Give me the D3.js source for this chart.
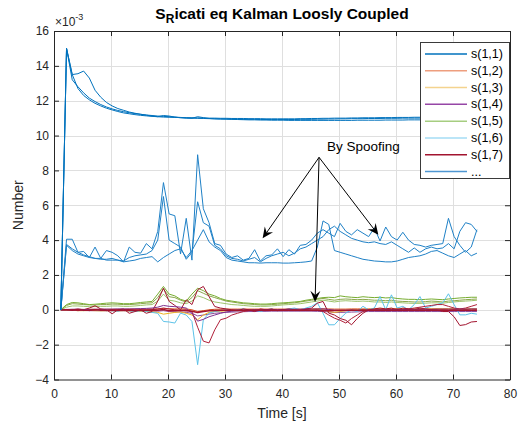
<!DOCTYPE html>
<html><head><meta charset="utf-8">
<script src="https://cdn.jsdelivr.net/npm/d3@7"></script>
<style>
body{margin:0;background:#fff}
text{font-family:"Liberation Sans",Arial,Helvetica,sans-serif}
</style>
</head><body>
<svg id="chart" width="531" height="423"></svg>
<script>
// ---------- data (values in units of 1e-3) ----------
const time = [1.2,2.2,3.2,4.2,5.2,6.2,7.2,8.2,9.2,10.2,
  11.2,12.2,13.2,14.2,15.2,16.2,17.2,18.2,19.2,20.2,
  21.2,22.2,23.2,24.2,25.2,26.2,27.2,28.2,29.2,30.2,
  31.2,32.2,33.2,34.2,35.2,36.2,37.2,38.2,39.2,40.2,
  41.2,42.2,43.2,44.2,45.2,46.2,47.2,48.2,49.2,50.2,
  51.2,52.2,53.2,54.2,55.2,56.2,57.2,58.2,59.2,60.2,
  61.2,62.2,63.2,64.2,65.2,66.2,67.2,68.2,69.2,70.2,
  71.2,72.2,73.2,74.2];

const upper1 = [0,15.0,13.5,12.7,12.3,12.05,11.85,11.7,11.57,11.47,
  11.38,11.3,11.25,11.2,11.16,11.13,11.1,11.08,11.06,11.05,
  11.04,11.03,11.02,11.02,11.01,11.0,11.0,11.0,10.99,10.99,
  10.98,10.98,10.98,10.97,10.97,10.97,10.96,10.96,10.96,10.96,
  10.96,10.96,10.97,10.97,10.98,10.98,10.99,10.99,11.0,11.0,
  11.0,11.01,11.01,11.02,11.02,11.02,11.03,11.03,11.03,11.04,
  11.04,11.04,11.05,11.05,11.05,11.05,11.06,11.06,11.06,11.06,
  11.07,11.07,11.07,11.07];
const upper2 = [0,15.0,13.5,13.55,13.7,13.3,12.6,12.2,11.9,11.7,
  11.55,11.45,11.35,11.28,11.22,11.17,11.12,11.08,11.15,11.12,
  11.06,11.02,11.0,10.99,11.08,11.03,10.98,10.96,10.95,10.95,
  10.94,10.94,10.93,10.93,10.93,10.92,10.92,10.92,10.92,10.92,
  10.92,10.92,10.93,10.93,10.93,10.94,10.94,10.95,10.95,10.96,
  10.96,10.97,10.97,10.97,10.98,10.98,10.98,10.99,10.99,10.99,
  11.0,11.0,11.0,11.0,11.01,11.01,11.01,11.02,11.02,11.02,
  11.02,11.03,11.03,11.03];
const upper3 = [0,15.0,13.2,12.8,12.45,12.15,11.95,11.78,11.64,11.53,
  11.44,11.37,11.31,11.26,11.22,11.18,11.15,11.12,11.1,11.08,
  11.06,11.04,11.02,11.0,10.99,10.98,10.97,10.96,10.95,10.94,
  10.93,10.92,10.91,10.9,10.9,10.89,10.89,10.88,10.88,10.88,
  10.87,10.87,10.87,10.87,10.87,10.87,10.87,10.87,10.87,10.87,
  10.87,10.87,10.88,10.88,10.88,10.88,10.88,10.89,10.89,10.89,
  10.89,10.9,10.9,10.9,10.9,10.9,10.91,10.91,10.91,10.91,
  10.91,10.92,10.92,10.92];

const mid1 = [0,4.05,4.05,3.3,3.35,3.0,3.6,2.95,3.4,3.3,
  3.1,2.75,3.6,3.3,3.25,3.8,3.5,4.5,7.3,5.5,
  5.4,3.2,5.25,2.85,8.9,5.8,5.0,3.8,3.7,3.2,
  3.0,3.1,2.85,2.95,3.45,2.8,3.1,3.15,3.5,3.05,
  3.45,3.2,3.7,3.75,4.0,4.4,4.6,4.4,4.2,4.96,
  4.5,4.3,4.6,4.4,4.2,4.7,3.95,4.75,4.2,4.0,
  4.45,4.0,3.75,3.7,3.6,3.7,3.75,3.8,5.25,4.2,
  3.7,3.3,3.6,4.6];
const mid2 = [0,3.75,3.5,3.3,3.15,3.05,2.95,2.9,2.9,2.95,
  2.85,2.8,3.0,3.1,3.15,3.2,3.4,4.0,6.5,4.0,
  3.8,3.6,2.9,3.3,6.2,5.0,4.8,3.7,3.5,3.1,
  2.95,2.9,2.8,2.9,3.0,2.75,2.95,3.1,3.2,3.3,
  3.1,3.25,3.5,3.6,3.8,4.0,4.2,4.6,4.8,4.5,
  4.3,4.1,4.0,3.9,3.85,3.9,3.8,3.75,3.9,3.7,
  3.5,3.3,3.55,3.3,3.5,3.6,3.5,3.55,3.8,3.5,
  4.5,5.0,4.9,4.5];
const mid3 = [0,3.7,3.4,3.2,3.1,3.0,2.95,2.95,2.85,2.85,
  2.85,2.75,2.8,2.85,2.95,3.0,3.05,2.75,3.0,3.2,
  3.4,3.5,3.0,3.4,4.0,4.6,3.9,3.6,3.4,3.0,
  2.85,2.8,2.75,2.7,2.7,2.68,2.7,2.7,2.7,2.68,
  2.68,2.7,2.72,2.75,2.8,3.6,5.1,4.9,3.4,3.3,
  3.2,3.1,3.0,2.9,2.85,2.8,2.78,2.75,2.75,2.8,
  2.9,3.0,3.05,3.1,3.2,3.35,3.4,3.25,3.1,3.0,
  3.2,3.4,3.1,3.25];

const green1 = [0,0.3,0.42,0.4,0.35,0.3,0.32,0.35,0.38,0.4,
  0.38,0.35,0.35,0.38,0.42,0.45,0.48,0.9,1.34,0.9,
  0.8,0.6,0.5,0.9,1.24,1.1,0.9,0.8,0.65,0.55,
  0.5,0.45,0.4,0.38,0.35,0.33,0.33,0.35,0.38,0.4,
  0.42,0.45,0.48,0.55,0.6,0.65,0.7,0.72,0.7,0.8,
  0.75,0.72,0.7,0.75,0.72,0.7,0.72,0.68,0.7,0.65,
  0.62,0.6,0.6,0.58,0.6,0.62,0.6,0.58,0.62,0.65,
  0.68,0.7,0.72,0.72];
const green2 = [0,0.25,0.35,0.33,0.3,0.28,0.27,0.3,0.3,0.33,
  0.32,0.3,0.3,0.32,0.35,0.38,0.4,0.7,1.2,0.75,
  0.7,0.55,0.45,0.7,1.1,0.95,0.8,0.7,0.6,0.5,
  0.45,0.4,0.35,0.33,0.3,0.28,0.28,0.3,0.32,0.35,
  0.38,0.4,0.45,0.5,0.55,0.6,0.65,0.6,0.55,0.6,
  0.62,0.6,0.58,0.6,0.58,0.55,0.55,0.52,0.55,0.5,
  0.48,0.47,0.45,0.45,0.47,0.5,0.48,0.45,0.5,0.52,
  0.55,0.58,0.6,0.62];
const green3 = [0,0.15,0.22,0.22,0.2,0.18,0.18,0.2,0.2,0.22,
  0.22,0.2,0.2,0.22,0.25,0.28,0.3,0.5,0.9,0.55,
  0.5,0.4,0.35,0.5,0.8,0.7,0.55,0.45,0.4,0.35,
  0.3,0.28,0.25,0.22,0.2,0.2,0.2,0.22,0.25,0.28,
  0.3,0.32,0.35,0.4,0.45,0.5,0.55,0.5,0.45,0.5,
  0.52,0.5,0.48,0.5,0.48,0.45,0.45,0.42,0.45,0.42,
  0.4,0.38,0.37,0.37,0.38,0.4,0.4,0.38,0.42,0.45,
  0.48,0.5,0.52,0.55];
const red1 = [0,0.02,0.0,0.05,0.0,0.1,0.23,0.05,0.0,-0.23,
  0.0,0.05,-0.2,-0.1,0.0,-0.2,-0.1,0.5,1.24,0.48,
  0.25,0.0,0.57,0.3,1.15,1.34,0.76,0.19,0.1,0.05,
  0.0,-0.05,0.05,0.0,-0.1,0.05,0.0,0.05,-0.05,0.0,
  0.05,0.0,-0.05,0.05,0.1,0.38,0.48,-0.19,-0.3,-0.5,
  -0.6,-0.86,-0.5,-0.2,0.0,0.05,0.1,0.05,0.1,0.0,
  0.1,0.05,0.0,0.1,0.05,0.0,0.0,-0.1,-0.1,-0.4,
  -0.9,-0.85,-0.7,-0.67];
const red2 = [0,-0.02,0.0,-0.05,0.0,-0.05,0.0,0.02,-0.05,0.0,
  -0.05,0.0,0.02,-0.05,0.0,-0.03,0.0,0.05,0.1,0.05,
  0.0,-0.05,0.0,-0.1,-1.0,-1.8,-1.9,-1.15,-0.57,-0.48,
  -0.3,-0.2,-0.1,-0.05,0.0,-0.05,0.0,0.0,-0.05,0.0,
  0.0,-0.05,0.0,0.0,-0.05,0.0,-0.1,-0.3,-0.48,-0.6,
  -0.76,-0.5,-0.3,-0.1,0.0,-0.05,0.0,-0.05,0.0,0.05,
  0.0,0.05,0.1,0.15,0.2,0.25,0.3,0.3,0.2,0.1,
  0.05,0.1,0.2,0.3];
const red3 = [0,0.0,-0.02,0.0,-0.03,-0.02,0.0,-0.02,-0.03,-0.02,
  -0.02,-0.03,-0.02,-0.02,-0.03,-0.02,-0.02,-0.03,0.02,-0.05,
  -0.05,-0.03,-0.05,-0.08,-0.15,-0.1,-0.05,-0.04,-0.03,-0.03,
  -0.03,-0.02,-0.03,-0.02,-0.03,-0.02,-0.03,-0.02,-0.03,-0.02,
  -0.03,-0.02,-0.03,-0.02,-0.03,-0.03,-0.04,-0.05,-0.04,-0.03,
  -0.03,-0.02,-0.03,-0.02,-0.03,-0.02,-0.03,-0.02,-0.03,-0.02,
  -0.03,-0.02,-0.03,-0.02,-0.03,-0.02,-0.03,-0.02,-0.03,-0.02,
  -0.03,-0.02,-0.03,-0.02];
const cyan1 = [0,0.0,-0.02,0.0,-0.05,0.0,0.02,-0.05,0.0,-0.05,
  -0.08,0.0,-0.05,-0.1,-0.05,-0.1,-0.15,-0.2,-0.67,-0.7,
  -0.76,-0.19,-0.3,-0.67,-3.15,-0.57,-0.19,-0.1,-0.05,0.0,
  -0.05,0.0,0.05,-0.05,0.0,-0.1,0.0,0.05,-0.05,0.0,
  0.05,0.1,0.0,0.1,0.2,0.4,-0.2,-0.86,-0.86,-0.5,
  -0.19,0.0,-0.1,0.2,0.0,0.1,0.76,0.0,0.86,0.1,
  0.2,0.0,0.3,0.76,0.1,0.2,0.3,0.4,0.92,0.3,
  -0.29,-0.29,-0.2,-0.25];
const yellow1 = [0,-0.02,-0.03,-0.05,-0.05,-0.04,-0.05,-0.06,-0.05,-0.05,
  -0.06,-0.05,-0.06,-0.07,-0.08,-0.1,-0.12,-0.15,-0.25,-0.2,
  -0.15,-0.12,-0.2,-0.3,-0.57,-0.3,-0.15,-0.1,-0.08,-0.06,
  -0.05,-0.05,-0.04,-0.04,-0.03,-0.03,-0.03,-0.02,-0.02,-0.02,
  -0.02,-0.02,-0.01,0.0,0.02,0.05,0.0,-0.1,-0.15,-0.1,
  -0.05,-0.03,0.0,0.02,0.03,0.05,0.05,0.06,0.05,0.05,
  0.06,0.05,0.05,0.06,0.05,0.05,0.06,0.05,0.05,0.06,
  0.05,0.05,0.06,0.05];
const purple1 = [0,0.02,0.03,0.03,0.02,0.02,0.03,0.03,0.04,0.04,
  0.05,0.05,0.05,0.06,0.07,0.08,0.1,0.15,0.25,0.2,
  0.18,0.15,0.1,-0.2,-0.65,-0.55,-0.4,-0.3,-0.2,-0.12,
  -0.08,-0.05,-0.03,-0.02,0.0,0.0,0.0,0.01,0.01,0.02,
  0.02,0.03,0.03,0.04,0.04,0.05,0.05,0.02,-0.02,-0.05,
  -0.05,-0.04,-0.03,-0.02,-0.01,0.0,0.0,0.01,0.01,0.02,
  0.02,0.02,0.03,0.03,0.03,0.03,0.04,0.04,0.04,0.04,
  0.04,0.04,0.05,0.05];
const purple2 = [0,-0.02,-0.03,-0.04,-0.04,-0.05,-0.05,-0.05,-0.06,-0.06,
  -0.06,-0.06,-0.07,-0.07,-0.07,-0.08,-0.08,-0.08,-0.05,-0.1,
  -0.12,-0.12,-0.15,-0.2,-0.35,-0.3,-0.25,-0.2,-0.17,-0.15,
  -0.13,-0.12,-0.11,-0.1,-0.1,-0.09,-0.09,-0.08,-0.08,-0.08,
  -0.08,-0.08,-0.08,-0.08,-0.08,-0.09,-0.1,-0.12,-0.15,-0.15,
  -0.14,-0.13,-0.12,-0.11,-0.1,-0.1,-0.1,-0.1,-0.1,-0.1,
  -0.1,-0.1,-0.1,-0.1,-0.1,-0.1,-0.1,-0.1,-0.1,-0.1,
  -0.1,-0.1,-0.1,-0.1];
const orange1 = [0,0.01,0.02,0.02,0.02,0.03,0.03,0.03,0.03,0.03,
  0.03,0.03,0.04,0.04,0.04,0.04,0.05,0.05,0.08,0.06,
  0.05,0.05,0.05,0.0,-0.1,-0.05,0.0,0.03,0.04,0.04,
  0.04,0.04,0.04,0.04,0.04,0.04,0.04,0.04,0.04,0.04,
  0.04,0.04,0.04,0.05,0.05,0.06,0.06,0.05,0.04,0.04,
  0.04,0.05,0.05,0.05,0.05,0.05,0.05,0.05,0.05,0.05,
  0.05,0.05,0.05,0.05,0.05,0.05,0.05,0.05,0.05,0.05,
  0.05,0.05,0.05,0.05];

const xTicks = [0,10,20,30,40,50,60,70,80];
const yTicks = [-4,-2,0,2,4,6,8,10,12,14,16];
const legendNames = ["s(1,1)","s(1,2)","s(1,3)","s(1,4)","s(1,5)","s(1,6)","s(1,7)","..."];
const legendColors = ["#0072BD","#EE9E7E","#F4D38E","#9646A6","#A6CD80","#A4DCF4","#A2142F","#4E96D2"];

// annotation (data coordinates)
const annoText = "By Spoofing";
const annoTextPos = [47.9, 9.1];
const annoFrom = [46.5, 8.75];
const annoTips = [[36.6, 4.1], [56.9, 4.3], [45.8, 0.45]];

// series with style
const series = [
  {v: purple2, c: "#8c4a9a"}, {v: orange1, c: "#D95319"}, {v: yellow1, c: "#EDB120"},
  {v: green3, c: "#9cc26b"}, {v: green2, c: "#8aa64a"}, {v: green1, c: "#77AC30"},
  {v: cyan1, c: "#5cc2e8"}, {v: red2, c: "#b0203a"}, {v: red1, c: "#A2142F"},
  {v: purple1, c: "#7E2F8E"}, {v: red3, c: "#A2142F", w: 1.6},
  {v: mid3, c: "#1f80c6"}, {v: mid2, c: "#1f80c6"}, {v: mid1, c: "#1f80c6"},
  {v: upper3, c: "#0072BD"}, {v: upper2, c: "#0072BD"}, {v: upper1, c: "#0072BD"}
];

// ---------- drawing ----------
const svg = d3.select("#chart");
const L = 54, R = 510, T = 31, B = 379.5;
const x = d3.scaleLinear().domain([0, 80]).range([L, R]);
const y = d3.scaleLinear().domain([-4, 16]).range([B, T]);
const axisColor = "#262626";

// grid
const grid = svg.append("g");
grid.selectAll(".gx").data(xTicks.slice(1, -1)).enter().append("line")
  .attr("x1", d => Math.round(x(d)) + 0.5).attr("x2", d => Math.round(x(d)) + 0.5)
  .attr("y1", T).attr("y2", B).attr("stroke", "#dfdfdf").attr("stroke-width", 1);
grid.selectAll(".gy").data(yTicks.slice(1, -1)).enter().append("line")
  .attr("y1", d => Math.round(y(d)) + 0.5).attr("y2", d => Math.round(y(d)) + 0.5)
  .attr("x1", L).attr("x2", R).attr("stroke", "#dfdfdf").attr("stroke-width", 1);

// lines
svg.append("clipPath").attr("id", "clip").append("rect")
  .attr("x", L).attr("y", T).attr("width", R - L).attr("height", B - T);
const line = d3.line().x((d, i) => x(time[i])).y(d => y(d));
const lg = svg.append("g").attr("clip-path", "url(#clip)");
series.forEach(s => {
  lg.append("path").datum(s.v).attr("d", line)
    .attr("fill", "none").attr("stroke", s.c).attr("stroke-width", s.w || 1)
    .attr("stroke-linejoin", "round");
});

// axes (box with inward ticks)
function styleAxis(g) {
  g.select(".domain").attr("stroke", axisColor);
  g.selectAll(".tick line").attr("stroke", axisColor);
  g.selectAll(".tick text").attr("fill", axisColor).attr("font-size", 12)
    .attr("font-family", '"Liberation Sans",Arial,sans-serif');
}
const xb = svg.append("g").attr("transform", `translate(0,${B})`)
  .call(d3.axisBottom(x).tickValues(xTicks).tickSizeInner(-5).tickSizeOuter(0).tickPadding(10));
styleAxis(xb);
const xt = svg.append("g").attr("transform", `translate(0,${T})`)
  .call(d3.axisTop(x).tickValues(xTicks).tickSizeInner(-5).tickSizeOuter(0).tickFormat(""));
styleAxis(xt);
const yl = svg.append("g").attr("transform", `translate(${L},0)`)
  .call(d3.axisLeft(y).tickValues(yTicks).tickSizeInner(-5).tickSizeOuter(0).tickPadding(5));
styleAxis(yl);
const yr = svg.append("g").attr("transform", `translate(${R},0)`)
  .call(d3.axisRight(y).tickValues(yTicks).tickSizeInner(-5).tickSizeOuter(0).tickFormat(""));
styleAxis(yr);

// exponent label
const ex = svg.append("text").attr("x", L + 1).attr("y", 26).attr("fill", axisColor).attr("font-size", 12);
ex.append("tspan").text("\u00d710");
ex.append("tspan").attr("dy", -6).attr("font-size", 9).text("-3");

// axis labels
svg.append("text").attr("x", (L + R) / 2).attr("y", 418).attr("text-anchor", "middle")
  .attr("fill", axisColor).attr("font-size", 14).text("Time [s]");
svg.append("text").attr("transform", `translate(23,${(T + B) / 2}) rotate(-90)`)
  .attr("text-anchor", "middle").attr("fill", axisColor).attr("font-size", 14).text("Number");

// title
const tt = svg.append("text").attr("x", (L + R) / 2).attr("y", 19).attr("text-anchor", "middle")
  .attr("font-weight", "bold").attr("font-size", 15.5).attr("fill", "#000");
tt.append("tspan").text("S");
tt.append("tspan").attr("dy", 4).attr("font-size", 12).text("R");
tt.append("tspan").attr("dy", -4).text("icati eq Kalman Loosly Coupled");

// annotation
svg.append("text").attr("x", x(annoTextPos[0])).attr("y", y(annoTextPos[1]))
  .attr("font-size", 13.5).attr("fill", "#000").text(annoText);
annoTips.forEach(tp => {
  const x1 = x(annoFrom[0]), y1 = y(annoFrom[1]), x2 = x(tp[0]), y2 = y(tp[1]);
  const ang = Math.atan2(y2 - y1, x2 - x1);
  const hl = 11, hw = 5, notch = 4;
  const ux = Math.cos(ang), uy = Math.sin(ang), px = -uy, py = ux;
  svg.append("line").attr("x1", x1).attr("y1", y1)
    .attr("x2", x2 - ux * (hl - notch)).attr("y2", y2 - uy * (hl - notch))
    .attr("stroke", "#000").attr("stroke-width", 1);
  const pts = [
    [x2, y2],
    [x2 - ux * hl + px * hw, y2 - uy * hl + py * hw],
    [x2 - ux * (hl - notch), y2 - uy * (hl - notch)],
    [x2 - ux * hl - px * hw, y2 - uy * hl - py * hw]
  ];
  svg.append("path").attr("d", "M" + pts.map(p => p.join(",")).join("L") + "Z").attr("fill", "#000");
});

// legend
const lgX = 420, lgY = 42, lgW = 89, lgH = 136;
const leg = svg.append("g");
leg.append("rect").attr("x", lgX + 0.5).attr("y", lgY + 0.5).attr("width", lgW).attr("height", lgH)
  .attr("fill", "#fff").attr("stroke", "#3a3a3a").attr("stroke-width", 1);
const rowY = d3.scaleLinear().domain([0, 7]).range([lgY + 12, lgY + 129.5]);
legendNames.forEach((n, i) => {
  leg.append("line").attr("x1", lgX + 5).attr("x2", lgX + 47)
    .attr("y1", rowY(i)).attr("y2", rowY(i))
    .attr("stroke", legendColors[i]).attr("stroke-width", 1.5);
  leg.append("text").attr("x", lgX + 51).attr("y", rowY(i) + 4)
    .attr("font-size", 12.5).attr("fill", "#000").text(n);
});
</script>
</body></html>
